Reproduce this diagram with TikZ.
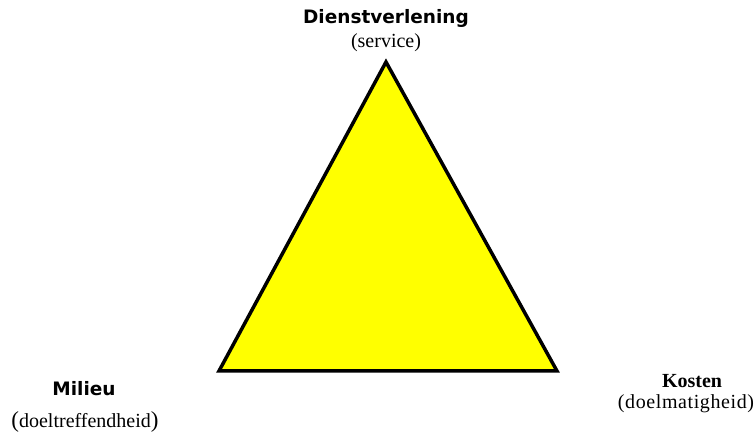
\documentclass[tikz,border=0pt]{standalone}
\usepackage{fontspec}
\setmainfont{Liberation Serif}
\newfontfamily\headfont{DejaVu Sans}
\usetikzlibrary{positioning}
\definecolor{triyellow}{RGB}{255,255,0}

\newcommand{\bigparen}[1]{{\fontsize{23}{23}\selectfont #1}}

\begin{document}
\begin{tikzpicture}[
  x=1pt,y=1pt,
  head/.style={anchor=base,inner sep=0pt,font=\headfont\bfseries\fontsize{18.5}{20}\selectfont},
  sub/.style={anchor=base,inner sep=0pt,font=\fontsize{20}{22}\selectfont},
  subhead/.style={sub,font=\bfseries\fontsize{20}{22}\selectfont},
  triangle/.style={line width=3.5pt,line join=miter,fill=triyellow}
]
\useasboundingbox (0,0) rectangle (756,434);
\coordinate (apex) at (386,372);
\coordinate (left) at (219,63);
\coordinate (right) at (557,63);
\draw[triangle] (apex) -- (left) -- (right) -- cycle;

\node[head] (dienst) at (386,410) {Dienstverlening};
\node[sub] (service) at ([yshift=-23.5pt]dienst.base) {(service)};

\node[head] (milieu) at (84,38) {Milieu};
\node[sub] (doeltref) at ([xshift=1pt,yshift=-32pt]milieu.base) {\bigparen{(}doeltreffendheid\bigparen{)}};

\node[subhead] (kosten) at (692,46) {Kosten};
\node[sub] (doelmatig) at ([xshift=-6pt,yshift=-21pt]kosten.base) {\addfontfeature{LetterSpace=3}(doelmatigheid)};
\end{tikzpicture}
\end{document}
